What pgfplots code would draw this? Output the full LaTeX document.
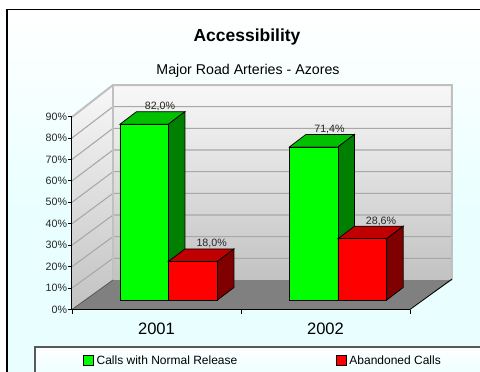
\documentclass[border=0pt]{standalone}
\usepackage{pgfplots}
\pgfplotsset{compat=1.18}
\usepackage{fontspec}
\setmainfont{Liberation Sans}
\definecolor{framebot}{HTML}{E9FFFF}
\definecolor{walltop}{HTML}{F8F8F8}
\definecolor{wallbot}{HTML}{C2C2C2}
\definecolor{gridc}{HTML}{A8A8A8}
\definecolor{edgec}{HTML}{C0C0C0}
\definecolor{floorc}{HTML}{808080}
\definecolor{greenfront}{HTML}{00FF00}
\definecolor{greentop}{HTML}{00C000}
\definecolor{greenside}{HTML}{008000}
\definecolor{redfront}{HTML}{FF0000}
\definecolor{redtop}{HTML}{C00000}
\definecolor{redside}{HTML}{800000}
\begin{document}
\begin{tikzpicture}
% page, panel and 3D backdrop, laid out on a 480 x 372 grid
\begin{scope}[x=0.75pt,y=-0.75pt]
  \path[use as bounding box,clip] (0,0) rectangle (480,372);
  \fill[white] (0,0) rectangle (480,372);
  \shade[top color=white,bottom color=framebot] (7,9) rectangle (490,210);
  \fill[framebot] (7,209) rectangle (490,380);
  \draw[black,line width=0.95pt] (7,380) -- (7,9.5) -- (490,9.5);
  % left wall
  \begin{scope}
    \clip (72,117) -- (113,85) -- (113,280) -- (72,309.5) -- cycle;
    \shade[top color=walltop,bottom color=wallbot] (72,85) rectangle (113,310);
  \end{scope}
  % back wall
  \shade[top color=walltop,bottom color=wallbot] (113,85) rectangle (452,280);
  % floor
  \fill[floorc] (72,309.5) -- (113,280) -- (452,280) -- (410,309.5) -- cycle;
  % grid lines on both walls
  \foreach \k in {1,...,8} {
    \draw[gridc,line width=0.8pt] (72,{309.5-21.44*\k}) -- (113,{280-21.67*\k}) -- (452,{280-21.67*\k});
  }
  % wall edges
  \draw[edgec,line width=1.5pt] (72,117) -- (113,85) -- (452,85) -- (452,280);
  \draw[edgec,line width=1.1pt] (113,85) -- (113,280);
  \draw[black,line width=0.6pt] (452,279) -- (410,309.5);
  \draw[gray!70!black,line width=0.6pt] (72,309.5) -- (113,280);
  % legend panel
  \shade[top color=white,bottom color=framebot] (35,347) rectangle (490,380);
  \draw[black!65,line width=0.8pt] (35,380) -- (35,347) -- (490,347);
  % titles
  \node[font=\bfseries\fontsize{13.1}{15}\selectfont] at (247,36.5) {Accessibility};
  \node[font=\fontsize{10.65}{13}\selectfont] at (248,71) {Major Road Arteries - Azores};
\end{scope}
\begin{axis}[
  at={(54pt,-232.125pt)},anchor=south west,
  scale only axis,width=253.5pt,height=144.75pt,
  xmin=72,xmax=410,ymin=0,ymax=90,
  clip=false,
  axis lines*=left,
  axis line style={black,line width=0.75pt,-},
  tick style={black,line width=0.6pt},
  tick align=outside,
  major tick length=3pt,
  xtick={72,241,410},
  xticklabels={2001,2002},
  x tick label as interval,
  xticklabel style={font=\fontsize{12.4}{14}\selectfont,yshift=-3.3pt},
  ytick={0,10,...,90},
  yticklabel={\pgfmathprintnumber{\tick}\%},
  yticklabel style={font=\fontsize{8}{10}\selectfont,/pgf/number format/assume math mode=true,inner sep=0.5pt,text=black!85},
  legend columns=2,
  legend style={at={(0.0325,-0.2660)},anchor=west,draw=none,fill=none,inner sep=0pt,
    font=\fontsize{9}{11}\selectfont,/tikz/column 2/.style={column sep=72pt}},
  legend cell align=left,
  legend image code/.code={\draw[#1] (0pt,-3.75pt) rectangle (7.5pt,3.75pt);},
]
% bars stand 9.5 units forward of the front axis line, tops and sides run back 16.5 x 12.5 units
\pgfplotsset{barlift/.style={shift={(0pt,7.125pt)}}}
% green series: top and side faces
\addplot[forget plot,barlift,fill=greentop,draw=black,line width=0.55pt] coordinates {(120,82.0)(168.5,82.0)(185,87.83)(136.5,87.83)} -- cycle;
\addplot[forget plot,barlift,fill=greenside,draw=black,line width=0.55pt] coordinates {(168.5,0)(168.5,82.0)(185,87.83)(185,5.83)} -- cycle;
\addplot[forget plot,barlift,fill=greentop,draw=black,line width=0.55pt] coordinates {(289.5,71.4)(338,71.4)(354.5,77.23)(306,77.23)} -- cycle;
\addplot[forget plot,barlift,fill=greenside,draw=black,line width=0.55pt] coordinates {(338,0)(338,71.4)(354.5,77.23)(354.5,5.83)} -- cycle;
% green series: front faces
\addplot[forget plot,barlift,ybar,bar width=36.4pt,bar shift=0pt,fill=greenfront,draw=black,line width=0.55pt,
  nodes near coords={\pgfmathprintnumber[fixed,fixed zerofill,precision=1,use comma,assume math mode=true]{\pgfplotspointmeta}\%},
  every node near coord/.append style={font=\fontsize{8}{10}\selectfont,text=black!85,anchor=center,xshift=11.8pt,yshift=13.2pt}]
  coordinates {(144.25,82.0)(313.75,71.4)};
% red series: top and side faces
\addplot[forget plot,barlift,fill=redtop,draw=black,line width=0.55pt] coordinates {(168.5,18.0)(217.5,18.0)(234,23.83)(185,23.83)} -- cycle;
\addplot[forget plot,barlift,fill=redside,draw=black,line width=0.55pt] coordinates {(217.5,0)(217.5,18.0)(234,23.83)(234,5.83)} -- cycle;
\addplot[forget plot,barlift,fill=redtop,draw=black,line width=0.55pt] coordinates {(338,28.6)(386.7,28.6)(403.2,34.43)(354.5,34.43)} -- cycle;
\addplot[forget plot,barlift,fill=redside,draw=black,line width=0.55pt] coordinates {(386.7,0)(386.7,28.6)(403.2,34.43)(403.2,5.83)} -- cycle;
% red series: front faces
\addplot[forget plot,barlift,ybar,bar width=36.6pt,bar shift=0pt,fill=redfront,draw=black,line width=0.55pt,
  nodes near coords={\pgfmathprintnumber[fixed,fixed zerofill,precision=1,use comma,assume math mode=true]{\pgfplotspointmeta}\%},
  every node near coord/.append style={font=\fontsize{8}{10}\selectfont,text=black!85,anchor=center,xshift=14pt,yshift=13.2pt}]
  coordinates {(193,18.0)(362.35,28.6)};
\addlegendimage{fill=greenfront,draw=black,line width=0.55pt}
\addlegendentry{Calls with Normal Release}
\addlegendimage{fill=redfront,draw=black,line width=0.55pt}
\addlegendentry{Abandoned Calls}
\end{axis}
\end{tikzpicture}
\end{document}
